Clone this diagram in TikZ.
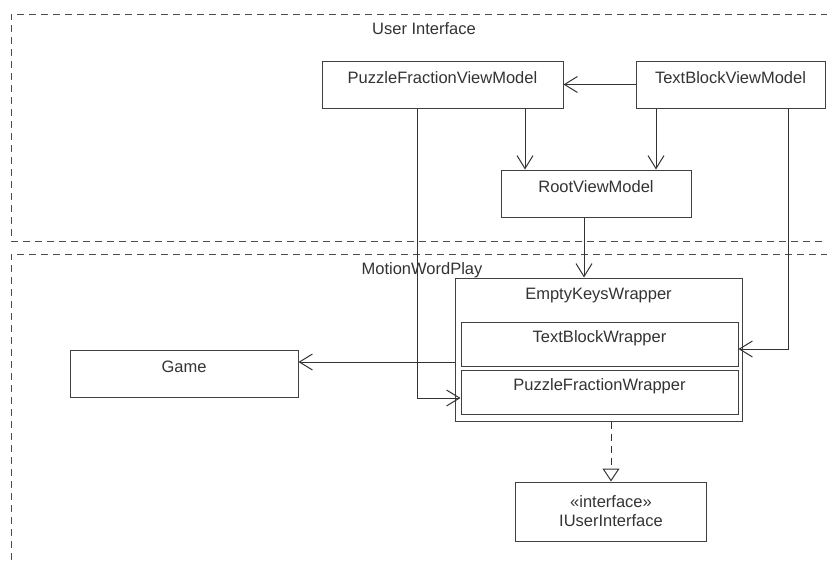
\documentclass[tikz,border=0pt]{standalone}
\usepackage{fontspec}
\setmainfont{Liberation Sans}
\usepackage{tikz}
\usetikzlibrary{arrows.meta}

\begin{document}
\begin{tikzpicture}[x=1pt,y=-1pt,
  lbl/.style={text=black!80,font=\fontsize{16.5}{19}\selectfont},
  box/.style={lbl,draw=black!75,line width=1pt,inner sep=0pt},
  cls/.style={box,text height=12pt,text depth=15pt},
  frame/.style={draw=black!70,line width=1pt,dash pattern=on 7pt off 5pt},
  dep/.style={draw=black!80,line width=1pt,-{Straight Barb[length=13pt,width=16pt]}},
  real/.style={draw=black!80,line width=1pt,dash pattern=on 7pt off 5pt,-{Triangle[open,length=13pt,width=17pt]}}]
  \clip (0,0) rectangle (827,560);
  \draw[frame] (840,14) -- (11,14) -- (11,241) -- (840,241);
  \draw[frame] (840,254) -- (11,254) -- (11,575);
  \node[lbl] at(424,29)(ui){User Interface};
  \node[lbl] at(422,270)(mwp){MotionWordPlay};
  \node[cls,minimum width=241pt,minimum height=47pt] at(442.5,84.5)(pfvm){PuzzleFractionViewModel};
  \node[cls,minimum width=189pt,minimum height=47pt] at(730.5,84.5)(tbvm){TextBlockViewModel};
  \node[cls,minimum width=190pt,minimum height=47pt] at(596,193.5)(rvm){RootViewModel};
  \node[cls,text depth=112pt,minimum width=287pt,minimum height=143pt] at(598.5,349.5)(ekw){EmptyKeysWrapper};
  \node[cls,minimum width=277pt,minimum height=44pt] at(599.5,344)(tbw){TextBlockWrapper};
  \node[cls,minimum width=277pt,minimum height=44pt] at(599.5,392)(pfw){PuzzleFractionWrapper};
  \node[cls,minimum width=228pt,minimum height=47pt] at(184,373.5)(game){Game};
  \node[box,align=center,minimum width=191pt,minimum height=59pt] at(611,511.5)(iui){«interface»\\IUserInterface};
  \draw[dep] (tbvm.west) -- (pfvm.east);
  \draw[dep] ([xshift=82.5pt]pfvm.south) -- ([xshift=-71pt]rvm.north);
  \draw[dep] ([xshift=-74.5pt]tbvm.south) -- ([xshift=60pt]rvm.north);
  \draw[dep] ([xshift=-12pt]rvm.south) -- ([xshift=-14.5pt]ekw.north);
  \draw[dep] ([yshift=-12.5pt]ekw.west) -- ([yshift=11.5pt]game.east);
  \draw[dep] ([xshift=-25.5pt]pfvm.south) |- ([yshift=-6pt]pfw.west);
  \draw[dep] ([xshift=57.5pt]tbvm.south) |- ([yshift=-5pt]tbw.east);
  \draw[real] ([xshift=12.5pt]ekw.south) -- (iui.north);
\end{tikzpicture}
\end{document}
